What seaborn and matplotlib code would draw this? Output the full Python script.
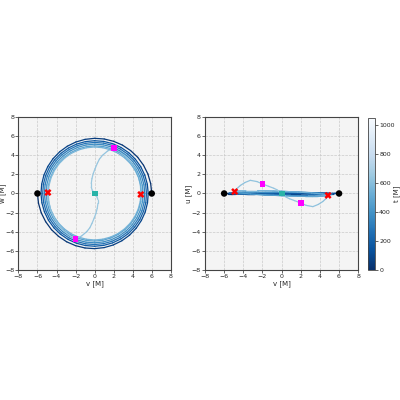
import numpy as np
import matplotlib
matplotlib.use("Agg")
import matplotlib.pyplot as plt
import seaborn as sns
import pandas as pd
from matplotlib.collections import LineCollection
from matplotlib.colors import Normalize
from matplotlib.cm import ScalarMappable

orbit_phi_deg = list(range(0, 1090, 10)) + [1090, 1100, 1110, 1120, 1130, 1140, 1147.4]
orbit_r = [6.00, 5.98, 5.96, 5.93, 5.91, 5.88, 5.86, 5.83, 5.81, 5.79, 5.77, 5.75, 5.73, 5.71, 5.69, 5.67, 5.66, 5.64, 5.63,
           5.62, 5.61, 5.60, 5.59, 5.58, 5.57, 5.56, 5.55, 5.54, 5.53, 5.52, 5.51, 5.50, 5.49, 5.48, 5.47, 5.46, 5.45,
           5.44, 5.43, 5.42, 5.41, 5.40, 5.39, 5.38, 5.37, 5.36, 5.35, 5.34, 5.33, 5.32, 5.31, 5.30, 5.29, 5.28, 5.27,
           5.26, 5.25, 5.24, 5.23, 5.22, 5.21, 5.20, 5.19, 5.18, 5.17, 5.16, 5.15, 5.14, 5.13, 5.12, 5.11, 5.10, 5.09,
           5.08, 5.07, 5.06, 5.05, 5.04, 5.03, 5.02, 5.01, 5.00, 4.99, 4.98, 4.97, 4.96, 4.95, 4.94, 4.93, 4.925, 4.92,
           4.915, 4.91, 4.905, 4.90, 4.895, 4.89, 4.885, 4.88, 4.88, 4.875, 4.87, 4.87, 4.865, 4.865, 4.86, 4.86, 4.86, 4.86,
           4.88, 4.92, 4.96, 5.00, 5.08, 5.14, 5.20]
orbit_u = [0.00, 0.01, 0.02, 0.02, 0.03, 0.04, 0.04, 0.05, 0.05, 0.05, 0.05, 0.05, 0.04, 0.04, 0.03, 0.02, 0.02, 0.01,
           0.00, -0.01, -0.02, -0.02, -0.03, -0.04, -0.04, -0.05, -0.05, -0.05, -0.05, -0.05, -0.04, -0.04, -0.03, -0.02, -0.02, -0.01,
           -0.05, -0.03, 0.00, 0.03, 0.05, 0.08, 0.10, 0.11, 0.13, 0.14, 0.15, 0.15, 0.15, 0.14, 0.13, 0.11, 0.10, 0.08,
           0.05, 0.03, 0.00, -0.03, -0.05, -0.08, -0.10, -0.11, -0.13, -0.14, -0.15, -0.15, -0.15, -0.14, -0.13, -0.11, -0.10, -0.08,
           -0.12, -0.15, -0.10, -0.05, 0.00, 0.05, 0.10, 0.15, 0.19, 0.23, 0.26, 0.28, 0.30, 0.30, 0.30, 0.28, 0.26, 0.23,
           0.19, 0.15, 0.10, 0.05, 0.00, -0.05, -0.10, -0.15, -0.19, -0.23, -0.26, -0.28, -0.30, -0.30, -0.30, -0.28, -0.26, -0.23, -0.19,
           -0.35, -0.55, -0.85, -1.15, -1.38, -1.25, -1.00]
orbit_t = [0, 6, 12, 18, 24, 30, 36, 42, 48, 54, 60, 66, 72, 78, 84, 90, 96, 102,
           108, 114, 120, 126, 132, 138, 144, 150, 156, 162, 168, 174, 180, 186, 192, 198, 204, 210,
           216, 222, 227, 233, 238, 244, 250, 255, 261, 266, 272, 278, 283, 289, 294, 300, 306, 311,
           317, 322, 328, 334, 339, 345, 350, 356, 362, 367, 373, 378, 384, 390, 395, 401, 406, 412,
           418, 423, 428, 433, 438, 443, 448, 453, 458, 463, 468, 473, 478, 483, 488, 493, 498, 503,
           508, 513, 518, 523, 528, 533, 538, 543, 548, 553, 558, 563, 568, 573, 578, 583, 588, 593, 598,
           602, 606, 610, 614, 618, 622, 626]

# ---- body 1 plunge to the merger point (cartesian) ----
plunge_v = [1.35, 0.82, 0.50, 0.28, 0.05, -0.14, -0.28, -0.35, -0.35, -0.25, 0.0]
plunge_w = [4.45, 4.00, 3.60, 3.15, 2.60, 2.10, 1.55, 1.05, 0.65, 0.35, 0.0]
plunge_u = [-0.75, -0.55, -0.40, -0.25, -0.10, 0.05, 0.18, 0.25, 0.27, 0.20, 0.0]
plunge_t = [630, 633, 636, 639, 642, 645, 648, 651, 654, 657, 660]

# ---- markers ----
start_v = [6.0, -6.0]
start_w = [0.0, 0.0]
start_u = [0.0, 0.0]
red_v = [4.85, -4.9]
red_w = [-0.1, 0.1]
red_u = [-0.2, 0.2]
mag_v = [2.0, -2.0]
mag_w = [4.8, -4.8]
mag_u = [-1.0, 1.0]
end_v = [0.0]
end_w = [0.0]
end_u = [0.0]

t_max = 1050
ticks = [-8, -6, -4, -2, 0, 2, 4, 6, 8]
cbar_ticks = [0, 200, 400, 600, 800, 1000]

sns.set_style("whitegrid", {
    "axes.facecolor": "#f4f4f4",
    "grid.color": "#c9c9c9",
    "grid.linestyle": "--",
    "axes.edgecolor": "#444444",
    "xtick.bottom": True,
    "ytick.left": True,
})
plt.rcParams["font.family"] = ["DejaVu Sans"]
plt.rcParams["font.size"] = 5

phi = np.radians(orbit_phi_deg)
r = np.array(orbit_r)
v1 = np.concatenate([r * np.cos(phi), plunge_v])
w1 = np.concatenate([r * np.sin(phi), plunge_w])
u1 = np.concatenate([orbit_u, plunge_u])
t1 = np.concatenate([orbit_t, plunge_t]).astype(float)
# second (equal-mass) body mirrors the first through the origin
v2, w2, u2 = -v1, -w1, -u1

norm = Normalize(0, t_max)
cmap = "Blues_r"

fig = plt.figure(figsize=(4, 4), dpi=100)
axL = fig.add_axes([0.046, 0.3258, 0.381, 0.381])
axR = fig.add_axes([0.5125, 0.3258, 0.383, 0.381])
cax = fig.add_axes([0.9208, 0.3258, 0.0167, 0.3785])


def add_track(ax, x, y, t):
    pts = np.column_stack([x, y]).reshape(-1, 1, 2)
    segs = np.concatenate([pts[:-1], pts[1:]], axis=1)
    lc = LineCollection(segs, cmap=cmap, norm=norm, linewidths=0.9, zorder=2,
                        capstyle="round", joinstyle="round")
    lc.set_array(0.5 * (t[:-1] + t[1:]))
    ax.add_collection(lc)


for ax, ya, yb, ys, yr, ym, ye, ylab in [
    (axL, w1, w2, start_w, red_w, mag_w, end_w, "w [M]"),
    (axR, u1, u2, start_u, red_u, mag_u, end_u, "u [M]"),
]:
    add_track(ax, v1, ya, t1)
    add_track(ax, v2, yb, t1)
    sns.scatterplot(x=start_v, y=ys, ax=ax, color="black", marker="o", s=22,
                    edgecolor="none", zorder=4)
    sns.scatterplot(x=red_v, y=yr, ax=ax, color="red", marker="X", s=26,
                    edgecolor="none", zorder=4)
    sns.scatterplot(x=mag_v, y=ym, ax=ax, color="magenta", marker="s", s=18,
                    edgecolor="none", zorder=4)
    sns.scatterplot(x=end_v, y=ye, ax=ax, color="#2ab3a8", marker="s", s=18,
                    edgecolor="none", zorder=5)
    ax.set_xlim(-8, 8)
    ax.set_ylim(-8, 8)
    ax.set_xticks(ticks)
    ax.set_yticks(ticks)
    ax.tick_params(labelsize=4.5, length=2, width=0.5, pad=1)
    ax.set_xlabel("v [M]", fontsize=5, labelpad=1)
    ax.set_ylabel(ylab, fontsize=5)
    ax.yaxis.set_label_coords(-0.082, 0.5)
    ax.grid(True, linewidth=0.5)
    for s in ax.spines.values():
        s.set_linewidth(0.8)

sm = ScalarMappable(norm=norm, cmap=cmap)
cb = fig.colorbar(sm, cax=cax, ticks=cbar_ticks)
cb.ax.tick_params(labelsize=4.5, length=2, width=0.5, pad=1)
cb.set_label("t [M]", fontsize=5)
cb.ax.yaxis.set_label_coords(3.7, 0.5)
cb.outline.set_linewidth(0.6)

fig.savefig("out.png", dpi=100)
